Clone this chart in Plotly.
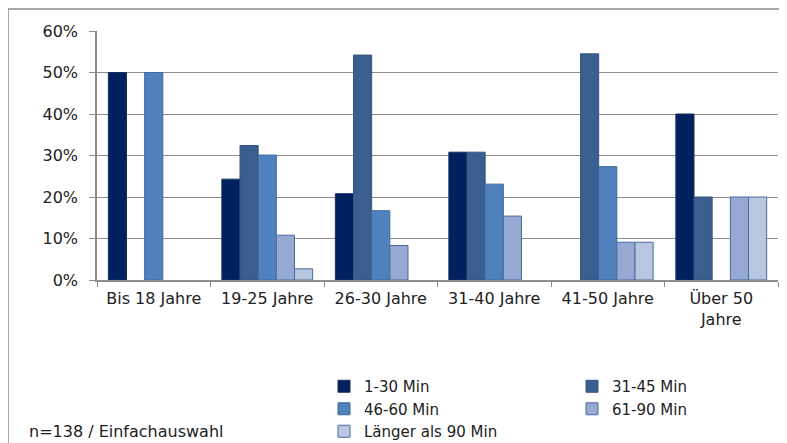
import plotly.graph_objects as go

categories = ["Bis 18 Jahre", "19-25 Jahre", "26-30 Jahre", "31-40 Jahre", "41-50 Jahre", "Über 50<br>Jahre"]
series_names = ["1-30 Min", "31-45 Min", "46-60 Min", "61-90 Min", "Länger als 90 Min"]
v_1_30 = [50.0, 24.3, 20.8, 30.8, 0.0, 40.0]
v_31_45 = [0.0, 32.4, 54.2, 30.8, 54.5, 20.0]
v_46_60 = [50.0, 30.1, 16.7, 23.1, 27.3, 0.0]
v_61_90 = [0.0, 10.8, 8.3, 15.4, 9.1, 20.0]
v_90_plus = [0.0, 2.7, 0.0, 0.0, 9.1, 20.0]
y_ticks = [0, 10, 20, 30, 40, 50, 60]
y_tick_labels = ["0%", "10%", "20%", "30%", "40%", "50%", "60%"]
note_text = "n=138 / Einfachauswahl"

fills = ["#002060", "#3A5F8E", "#4F81BD", "#95A9D2", "#B9C6E0"]
lines = ["#1A2F5E", "#34557F", "#3F6AA0", "#4A6B9C", "#4A6B9C"]
legend_ids = ["legend", "legend2", "legend", "legend2", "legend"]
all_values = [v_1_30, v_31_45, v_46_60, v_61_90, v_90_plus]

# page has an 8px body margin; figure is placed at (8, 8)
OFF = 8
W, H = 787 - OFF, 443 - OFF
# plot area in page pixels: x 97..778, y 31..280
ml, mt = 97 - OFF, 31 - OFF
mr = W - (778 - OFF)
mb = H - (280 - OFF)
pw, ph = W - ml - mr, H - mt - mb

def px_x(x):
    return (x - OFF - ml) / pw

def px_y(y):
    return (H - mb - (y - OFF)) / ph

FONT = "DejaVu Sans"
fig = go.Figure()
for name, vals, fc, lc, lg in zip(series_names, all_values, fills, lines, legend_ids):
    fig.add_trace(go.Bar(
        name=name, x=categories, y=[v if v > 0 else None for v in vals],
        marker=dict(color=fc, line=dict(color=lc, width=1)),
        legend=lg,
    ))

legend_common = dict(
    orientation="v", xanchor="left", yanchor="top",
    font=dict(size=15), traceorder="normal", bgcolor="rgba(0,0,0,0)",
    borderwidth=0,
)

fig.update_layout(
    width=W, height=H,
    margin=dict(l=ml, r=mr, t=mt, b=mb, autoexpand=False),
    paper_bgcolor="white", plot_bgcolor="white",
    barmode="group", bargap=0.2, bargroupgap=0,
    font=dict(family=FONT, size=16, color="#222222"),
    xaxis=dict(
        type="category", showline=True, linecolor="#8C8C8C", linewidth=1.5,
        ticks="outside", tickson="boundaries", ticklen=5, tickcolor="#8C8C8C",
        showgrid=False, tickfont=dict(size=16), tickangle=0, ticklabelstandoff=3,
    ),
    yaxis=dict(
        range=[0, 60], tickmode="array", tickvals=y_ticks, ticktext=y_tick_labels,
        showline=True, linecolor="#8C8C8C", linewidth=1.5,
        ticks="outside", ticklen=6, tickcolor="#8C8C8C",
        showgrid=True, gridcolor="#8C8C8C", gridwidth=1,
        zeroline=False, tickfont=dict(size=16), ticklabelstandoff=8,
    ),
    legend=dict(x=px_x(324), y=px_y(370), **legend_common),
    legend2=dict(x=px_x(572), y=px_y(370), **legend_common),
    annotations=[dict(
        text=note_text, xref="paper", yref="paper", x=px_x(27), y=px_y(431),
        xanchor="left", yanchor="middle", showarrow=False, font=dict(size=16),
    )],
    shapes=[dict(
        type="rect", xref="paper", yref="paper",
        x0=px_x(8), x1=px_x(800), y0=px_y(460), y1=px_y(9),
        line=dict(color="#8C8C8C", width=1.5), fillcolor="rgba(0,0,0,0)", layer="below",
    )],
)

fig.write_html("out.html")
